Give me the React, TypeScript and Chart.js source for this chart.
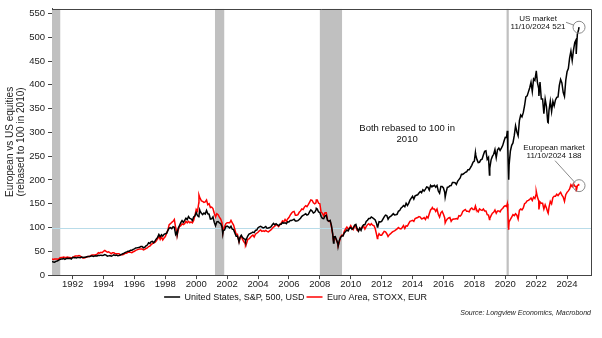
import React, { useEffect, useRef } from "react";
import { Chart, registerables } from "chart.js";

Chart.register(...registerables);

const FONT = '"Liberation Sans", Arial, sans-serif';

// Monthly series, month-end observations starting August 1990
const firstMonth = "1990-08";
// S&P 500 level (month-end); rebased so that US_BASE = 100
const US_BASE = 1116;
const usIndex: number[] = [
  322, 306, 304, 322, 330,
  344, 367, 375, 375, 390, 371, 388, 395, 388, 392, 375, 417,
  409, 413, 404, 415, 415, 408, 424, 414, 418, 419, 431, 436,
  439, 443, 452, 440, 450, 451, 448, 464, 459, 468, 462, 466,
  482, 467, 446, 451, 457, 444, 458, 475, 463, 472, 454, 459,
  471, 487, 501, 515, 533, 545, 562, 562, 584, 582, 605, 616,
  636, 640, 646, 654, 669, 671, 640, 652, 687, 705, 757, 741,
  786, 791, 757, 801, 848, 885, 954, 899, 947, 915, 955, 970,
  980, 1049, 1102, 1112, 1091, 1134, 1121, 957, 1017, 1099, 1164, 1229,
  1280, 1238, 1286, 1335, 1302, 1373, 1329, 1320, 1283, 1363, 1389, 1469,
  1394, 1366, 1499, 1452, 1421, 1455, 1431, 1518, 1437, 1429, 1315, 1320,
  1366, 1240, 1160, 1249, 1256, 1224, 1211, 1134, 1041, 1060, 1139, 1148,
  1130, 1107, 1147, 1077, 1067, 990, 912, 916, 815, 886, 936, 880,
  856, 841, 848, 917, 964, 975, 990, 1008, 996, 1051, 1058, 1112,
  1131, 1145, 1126, 1107, 1121, 1141, 1102, 1104, 1115, 1130, 1174, 1212,
  1181, 1204, 1181, 1157, 1192, 1191, 1234, 1220, 1229, 1207, 1249, 1248,
  1280, 1281, 1295, 1311, 1270, 1270, 1277, 1304, 1336, 1378, 1401, 1418,
  1438, 1407, 1421, 1482, 1531, 1503, 1455, 1474, 1527, 1549, 1481, 1468,
  1379, 1331, 1323, 1386, 1400, 1280, 1267, 1283, 1166, 969, 896, 903,
  826, 735, 798, 873, 919, 919, 987, 1021, 1057, 1036, 1096, 1115,
  1074, 1104, 1169, 1187, 1089, 1031, 1102, 1049, 1141, 1183, 1181, 1258,
  1286, 1327, 1326, 1364, 1345, 1321, 1292, 1219, 1131, 1253, 1247, 1258,
  1312, 1366, 1408, 1398, 1310, 1362, 1379, 1407, 1441, 1412, 1416, 1426,
  1498, 1515, 1569, 1598, 1631, 1606, 1686, 1633, 1682, 1757, 1806, 1848,
  1783, 1859, 1872, 1884, 1924, 1960, 1931, 2003, 1972, 2018, 2068, 2059,
  1995, 2105, 2068, 2086, 2107, 2063, 2104, 1972, 1920, 2079, 2080, 2044,
  1940, 1932, 2060, 2065, 2097, 2099, 2174, 2171, 2168, 2126, 2199, 2239,
  2279, 2364, 2363, 2384, 2412, 2423, 2470, 2472, 2519, 2575, 2648, 2674,
  2824, 2714, 2641, 2648, 2705, 2718, 2816, 2902, 2914, 2712, 2760, 2507,
  2704, 2784, 2834, 2946, 2752, 2942, 2980, 2926, 2977, 3038, 3141, 3231,
  3226, 2954, 2585, 2912, 3044, 3100, 3271, 3500, 3363, 3270, 3622, 3756,
  3714, 3811, 3973, 4181, 4204, 4298, 4395, 4523, 4308, 4605, 4567, 4766,
  4516, 4374, 4530, 4132, 4132, 3785, 4130, 3955, 3586, 3872, 4080, 3840,
  4077, 3970, 4109, 4169, 4180, 4450, 4589, 4508, 4288, 4194, 4568, 4770,
  4846, 5096, 5254, 5036, 5278, 5460, 5522, 5648, 5762,
];
// Euro Area STOXX, already rebased (2010 = 100)
const euroRebased: number[] = [
  34, 33, 34, 34, 34,
  33, 36, 37, 37, 38, 37, 37, 38, 37, 37, 36, 37,
  39, 40, 40, 40, 41, 40, 38, 36, 36, 37, 38, 39,
  39, 41, 42, 42, 42, 43, 44, 47, 46, 48, 47, 50,
  52, 50, 48, 49, 47, 45, 47, 47, 45, 45, 45, 45,
  43, 43, 43, 44, 46, 46, 48, 48, 48, 47, 49, 50,
  52, 53, 54, 55, 55, 55, 53, 54, 56, 57, 60, 61,
  64, 66, 68, 69, 72, 76, 82, 75, 80, 74, 78, 81,
  88, 95, 106, 108, 111, 113, 117, 100, 91, 95, 102, 104,
  108, 106, 108, 113, 110, 113, 110, 112, 110, 115, 125, 138,
  134, 152, 162, 156, 155, 153, 154, 158, 148, 150, 142, 143,
  140, 130, 122, 129, 127, 122, 118, 110, 96, 102, 108, 110,
  110, 110, 115, 110, 105, 96, 86, 86, 72, 78, 82, 75,
  70, 67, 66, 75, 76, 79, 82, 84, 80, 86, 88, 90,
  93, 95, 92, 93, 92, 94, 92, 91, 93, 95, 98, 101,
  103, 106, 105, 102, 106, 109, 114, 112, 117, 113, 118, 121,
  126, 130, 133, 134, 126, 126, 127, 132, 135, 139, 138, 143,
  146, 144, 148, 153, 158, 157, 152, 150, 152, 158, 151, 150,
  132, 130, 124, 131, 131, 116, 113, 114, 102, 85, 79, 78,
  73, 65, 68, 80, 84, 83, 92, 97, 101, 97, 99, 104,
  99, 96, 104, 101, 94, 93, 99, 97, 100, 103, 97, 102,
  106, 108, 105, 108, 105, 104, 98, 86, 80, 87, 84, 84,
  88, 92, 91, 87, 81, 85, 87, 90, 92, 93, 95, 97,
  100, 98, 97, 100, 104, 98, 104, 103, 108, 113, 114, 115,
  113, 119, 120, 121, 123, 122, 118, 119, 121, 117, 123, 120,
  129, 137, 140, 139, 139, 134, 139, 128, 122, 131, 134, 128,
  120, 114, 118, 120, 121, 113, 117, 118, 118, 119, 118, 125,
  124, 127, 134, 136, 138, 134, 134, 133, 139, 141, 138, 138,
  143, 136, 133, 139, 137, 136, 139, 135, 135, 127, 126, 119,
  125, 130, 132, 137, 130, 135, 135, 133, 138, 140, 144, 146,
  144, 134, 112, 117, 122, 127, 125, 129, 126, 118, 136, 139,
  137, 141, 150, 152, 156, 157, 159, 162, 157, 164, 161, 170,
  164, 156, 154, 151, 151, 139, 148, 141, 132, 143, 155, 150,
  163, 166, 166, 170, 167, 171, 174, 168, 164, 155, 169, 174,
  177, 181, 190, 186, 192, 187, 186, 188, 190,
];

// Intra-month turning points
const extraDates = [
  "1998-10-08", "2000-03-06", "2000-03-24", "2001-09-21", "2002-10-09", "2003-03-12",
  "2007-10-09", "2008-11-20", "2009-03-09", "2011-09-22", "2015-04-13", "2016-02-11",
  "2018-01-26", "2018-12-24", "2020-02-19", "2020-03-18", "2020-03-23", "2022-01-04",
  "2022-03-07", "2022-10-12", "2024-08-05", "2024-10-11",
];
const extraUsIndex = [
  959, 1392, 1527, 966, 777, 800,
  1565, 752, 677, 1129, 2092, 1829,
  2873, 2351, 3386, 2398, 2237, 4793,
  4201, 3577, 5186, 5815,
];
const extraEuro = [
  84, 168, 163, 90, 70, 62,
  158, 72, 61, 77, 142, 110,
  145, 117, 150, 97, 99, 176,
  138, 130, 176, 188,
];

const seriesLabels = ["United States, S&P, 500, USD", "Euro Area, STOXX, EUR"];
const xTickYears = [1992, 1994, 1996, 1998, 2000, 2002, 2004, 2006, 2008, 2010, 2012, 2014, 2016, 2018, 2020, 2022, 2024];
const yTickValues = [0, 50, 100, 150, 200, 250, 300, 350, 400, 450, 500, 550];
const recessions: [string, string][] = [
  ["1990-07-01", "1991-03-15"],
  ["2001-03-20", "2001-10-25"],
  ["2008-01-01", "2009-06-10"],
  ["2020-02-01", "2020-03-25"],
];
const referenceLevel = 100;
const lastDate = "2024-10-11";
const usLast = 521;
const euroLast = 188;

function toYear(d: string): number {
  const [y, m, day] = d.split("-").map(Number);
  const start = Date.UTC(y, 0, 1);
  const end = Date.UTC(y + 1, 0, 1);
  return y + (Date.UTC(y, m - 1, day || 1) - start) / (end - start);
}

function buildSeries() {
  const [fy, fm] = firstMonth.split("-").map(Number);
  const base = fy * 12 + (fm - 1);
  const us: { x: number; y: number }[] = [];
  const eu: { x: number; y: number }[] = [];
  const n = Math.min(usIndex.length, euroRebased.length);
  for (let i = 0; i < n; i++) {
    const x = (base + i + 1) / 12; // month end
    us.push({ x, y: (usIndex[i] / US_BASE) * 100 });
    eu.push({ x, y: euroRebased[i] });
  }
  extraDates.forEach((d, i) => {
    const x = toYear(d);
    us.push({ x, y: (extraUsIndex[i] / US_BASE) * 100 });
    eu.push({ x, y: extraEuro[i] });
  });
  us.sort((a, b) => a.x - b.x);
  eu.sort((a, b) => a.x - b.x);
  return { us, eu };
}

const overlayPlugin = {
  id: "overlay",
  beforeDatasetsDraw(chart: any) {
    const { ctx, chartArea: a, scales } = chart;
    const x = scales.x;
    const y = scales.y;
    ctx.save();
    ctx.beginPath();
    ctx.rect(a.left, a.top, a.right - a.left, a.bottom - a.top);
    ctx.clip();
    ctx.fillStyle = "#c0c0c0";
    for (const [s, e] of recessions) {
      const x0 = x.getPixelForValue(toYear(s));
      const x1 = x.getPixelForValue(toYear(e));
      ctx.fillRect(x0, a.top, Math.max(x1 - x0, 2), a.bottom - a.top);
    }
    const py = Math.round(y.getPixelForValue(referenceLevel)) + 0.5;
    ctx.strokeStyle = "#b9dce9";
    ctx.lineWidth = 1;
    ctx.beginPath();
    ctx.moveTo(a.left, py);
    ctx.lineTo(a.right, py);
    ctx.stroke();
    ctx.restore();
  },
  afterDatasetsDraw(chart: any) {
    const { ctx, chartArea: a, scales } = chart;
    const x = scales.x;
    const y = scales.y;
    ctx.save();
    // frame
    ctx.strokeStyle = "#444";
    ctx.lineWidth = 1;
    ctx.beginPath();
    ctx.moveTo(a.left, Math.round(a.top) + 0.5);
    ctx.lineTo(Math.round(a.right) + 0.5, Math.round(a.top) + 0.5);
    ctx.lineTo(Math.round(a.right) + 0.5, a.bottom);
    ctx.stroke();

    const lx = x.getPixelForValue(toYear(lastDate));
    const uy = y.getPixelForValue(usLast);
    const ey = y.getPixelForValue(euroLast);
    ctx.strokeStyle = "#8a8a8a";
    ctx.lineWidth = 1;
    ctx.beginPath();
    ctx.arc(lx, uy, 6, 0, Math.PI * 2);
    ctx.stroke();
    ctx.beginPath();
    ctx.arc(lx, ey, 6, 0, Math.PI * 2);
    ctx.stroke();
    ctx.beginPath();
    ctx.moveTo(lx - 13, uy - 5);
    ctx.lineTo(lx - 5, uy - 2);
    ctx.moveTo(lx - 24, ey - 25);
    ctx.lineTo(lx - 4, ey - 3);
    ctx.stroke();

    ctx.fillStyle = "#111";
    ctx.textAlign = "center";
    ctx.textBaseline = "middle";
    ctx.font = `8px ${FONT}`;
    ctx.fillText("US market", lx - 41, uy - 8);
    ctx.fillText(`11/10/2024 ${usLast}`, lx - 41, uy - 0.5);
    ctx.fillText("European market", lx - 25, ey - 38);
    ctx.fillText(`11/10/2024 ${euroLast}`, lx - 25, ey - 30);

    ctx.font = `9.5px ${FONT}`;
    const tx = x.getPixelForValue(2013.65);
    ctx.fillText("Both rebased to 100 in", tx, y.getPixelForValue(308));
    ctx.fillText("2010", tx, y.getPixelForValue(285));
    ctx.restore();
  },
};

export default function App() {
  const ref = useRef<HTMLCanvasElement | null>(null);
  useEffect(() => {
    if (!ref.current) return;
    const { us, eu } = buildSeries();
    const chart = new Chart(ref.current, {
      type: "line",
      data: {
        datasets: [
          {
            label: seriesLabels[0],
            data: us,
            borderColor: "#000000",
            backgroundColor: "#000000",
            borderWidth: 1.5,
            pointRadius: 0,
            tension: 0,
          },
          {
            label: seriesLabels[1],
            data: eu,
            borderColor: "#ff0000",
            backgroundColor: "#ff0000",
            borderWidth: 1.5,
            pointRadius: 0,
            tension: 0,
          },
        ],
      },
      options: {
        animation: false,
        responsive: false,
        parsing: false as any,
        layout: { padding: { left: 0, right: 11, top: 6, bottom: 0 } },
        scales: {
          x: {
            type: "linear",
            min: toYear("1990-09-01"),
            max: 2025.55,
            afterBuildTicks: (s: any) => {
              s.ticks = xTickYears.map((v) => ({ value: v }));
            },
            ticks: {
              autoSkip: false,
              maxRotation: 0,
              font: { family: FONT, size: 9.5, lineHeight: 1.0 },
              color: "#222",
              padding: 1,
              callback: (v: any) => String(v),
            },
            grid: { drawOnChartArea: false, drawTicks: true, tickLength: 4, color: "#444" },
            border: { display: true, color: "#444" },
          },
          y: {
            type: "linear",
            min: 0,
            max: 560,
            afterBuildTicks: (s: any) => {
              s.ticks = yTickValues.map((v) => ({ value: v }));
            },
            afterFit: (s: any) => {
              s.width = 52;
            },
            ticks: {
              font: { family: FONT, size: 9.5 },
              color: "#222",
              padding: 3,
              callback: (v: any) => String(v),
            },
            grid: { drawOnChartArea: false, drawTicks: true, tickLength: 4, color: "#444" },
            border: { display: true, color: "#444" },
            title: {
              display: true,
              text: ["European vs US equities", "(rebased to 100 in 2010)"],
              font: { family: FONT, size: 10, lineHeight: 1.1 },
              color: "#222",
              padding: { top: 5, bottom: 0 },
            },
          },
        },
        plugins: {
          tooltip: { enabled: false },
          legend: {
            display: true,
            position: "bottom",
            labels: {
              usePointStyle: true,
              pointStyle: "line",
              pointStyleWidth: 16,
              boxHeight: 9,
              padding: 2,
              color: "#111",
              font: { family: FONT, size: 9 },
            },
          },
          subtitle: {
            display: true,
            text: "Source: Longview Economics, Macrobond",
            position: "bottom",
            align: "end",
            color: "#222",
            font: { family: FONT, size: 7, style: "italic" },
            padding: { top: -3, bottom: 21 },
          },
        },
      },
      plugins: [overlayPlugin],
    } as any);
    return () => chart.destroy();
  }, []);
  return (
    <div style={{ position: "absolute", left: 0, top: 0, width: 602, height: 338, background: "#fff" }}>
      <canvas ref={ref} width={602} height={338} />
    </div>
  );
}
